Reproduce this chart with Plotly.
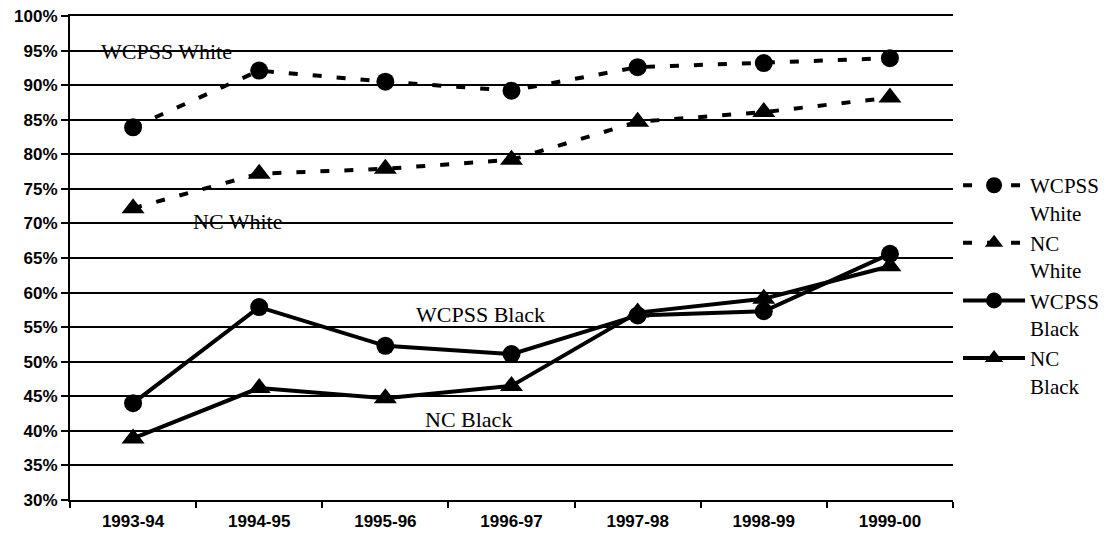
import plotly.graph_objects as go

years = ["1993-94", "1994-95", "1995-96", "1996-97", "1997-98", "1998-99", "1999-00"]
wcpss_white = [83.9, 92.1, 90.5, 89.2, 92.6, 93.2, 93.9]
nc_white = [72.2, 77.2, 77.9, 79.2, 84.7, 86.1, 88.2]
wcpss_black = [44.0, 57.9, 52.3, 51.1, 56.7, 57.3, 65.6]
nc_black = [38.9, 46.2, 44.7, 46.5, 57.1, 59.1, 63.8]

series = [
    ("WCPSS<br>White", wcpss_white, "circle", "dash"),
    ("NC<br>White", nc_white, "triangle-up", "dash"),
    ("WCPSS<br>Black", wcpss_black, "circle", "solid"),
    ("NC<br>Black", nc_black, "triangle-up", "solid"),
]

fig = go.Figure()
for name, vals, sym, dash in series:
    fig.add_trace(go.Scatter(
        x=years, y=vals, name=name, mode="lines+markers",
        line=dict(color="black", width=4,
                  dash="9px,15px" if dash != "solid" else "solid"),
        marker=dict(symbol=sym, size=18 if sym == "circle" else 20, color="black"),
    ))

labels = [
    ("WCPSS White", 0.266, 94.8),
    ("NC White", 0.829, 70.35),
    ("WCPSS Black", 2.754, 56.9),
    ("NC Black", 2.663, 41.6),
]
for txt, x, y in labels:
    fig.add_annotation(x=x, y=y, text=txt, showarrow=False,
                       font=dict(family="Liberation Serif", size=22, color="black"))

# page body has an 8px default margin, so the figure is sized/offset to compensate
fig.update_layout(
    width=1106, height=538,
    margin=dict(l=62, r=161, t=8, b=46, autoexpand=False),
    paper_bgcolor="white", plot_bgcolor="white",
    showlegend=True,
    legend=dict(
        xref="container", yref="container", x=0.859, y=0.708,
        xanchor="left", yanchor="top", valign="top",
        itemwidth=62,
        font=dict(family="Liberation Serif", size=21, color="black"),
        bgcolor="rgba(0,0,0,0)", tracegroupgap=0,
    ),
    font=dict(family="Liberation Sans", color="black"),
)
fig.update_xaxes(
    type="category", range=[-0.5, 6.5], showgrid=False, automargin=False,
    showline=True, mirror=True, linecolor="black", linewidth=2,
    ticks="outside", tickson="boundaries", ticklen=6, tickwidth=2, tickcolor="black",
    tickfont=dict(family="Liberation Sans", size=17, color="black", weight="bold"),
    zeroline=False, ticklabeloverflow="allow", ticklabelstandoff=5,
)
fig.update_yaxes(
    range=[30, 100], dtick=5, ticksuffix="%", automargin=False,
    showgrid=True, gridcolor="black", gridwidth=2,
    showline=True, linecolor="black", linewidth=2,
    ticks="outside", ticklen=7, tickwidth=2, tickcolor="black",
    tickfont=dict(family="Liberation Sans", size=17, color="black", weight="bold"),
    zeroline=False, ticklabeloverflow="allow",
)
fig.write_html("out.html")
